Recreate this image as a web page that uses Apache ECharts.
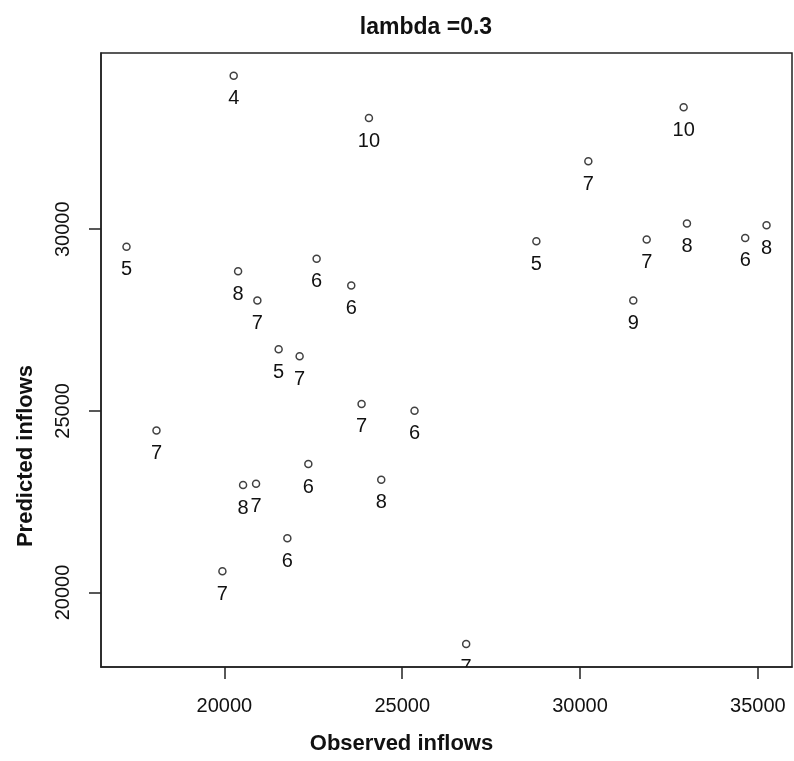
<!DOCTYPE html>
<html>
<head>
<meta charset="utf-8">
<title>lambda =0.3</title>
<script src="https://cdn.jsdelivr.net/npm/echarts@6/dist/echarts.min.js"></script>
<style>
  html, body { margin: 0; padding: 0; background: #fff; }
  #chart { width: 794px; height: 761px; }
</style>
</head>
<body>
<div id="chart"></div>
<script>
// Observed vs. predicted inflows, each point tagged with its group number
const observed = [20261, 24064, 17247, 20385, 20927, 22593, 23567, 21525, 22115, 23857,
                  25346, 18090, 22360, 20525, 20890, 24410, 21770, 19944, 26798, 28772,
                  30233, 32913, 33006, 31874, 31497, 34644, 35244];
const predicted = [34223, 33058, 29514, 28846, 28041, 29184, 28453, 26695, 26503, 25192,
                   25000, 24459, 23535, 22959, 22995, 23104, 21492, 20585, 18580, 29670,
                   31868, 33360, 30157, 29717, 28041, 29761, 30110];
const pointLabels = [4, 10, 5, 8, 7, 6, 6, 5, 7, 7, 6, 7, 6, 8, 7, 8, 6, 7, 7, 5, 7, 10, 8, 7, 9, 6, 8];

const xTicks = [20000, 25000, 30000, 35000];
const yTicks = [20000, 25000, 30000];

const FONT = '"Liberation Sans", Arial, sans-serif';
const INK = '#111';

const points = observed.map((x, i) => [x, predicted[i], pointLabels[i]]);
const plainNumber = v => String(v);

const chart = echarts.init(document.getElementById('chart'), null, { renderer: 'canvas' });

chart.setOption({
  backgroundColor: '#fff',
  animation: false,
  title: {
    text: 'lambda =0.3',
    left: 421,
    top: 11,
    textAlign: 'center',
    textStyle: { fontFamily: FONT, fontSize: 23, fontWeight: 'bold', color: INK }
  },
  grid: {
    left: 101, right: 2, top: 53, bottom: 94,
    show: true, borderColor: '#222', borderWidth: 1.5, backgroundColor: 'transparent'
  },
  xAxis: {
    type: 'value',
    min: 16530, max: 35960,
    splitLine: { show: false },
    axisLine: { show: true, lineStyle: { color: '#222', width: 1.5 } },
    axisTick: { show: true, customValues: xTicks, length: 12, inside: false,
                lineStyle: { color: '#222', width: 1.5 } },
    axisLabel: { customValues: xTicks, formatter: plainNumber, margin: 29,
                 fontFamily: FONT, fontSize: 20, color: INK },
    name: 'Observed inflows',
    nameLocation: 'middle',
    nameGap: 66,
    nameTextStyle: { fontFamily: FONT, fontSize: 22, fontWeight: 'bold', color: INK,
                     padding: [0, 90, 0, 0] }
  },
  yAxis: {
    type: 'value',
    min: 17950, max: 34850,
    splitLine: { show: false },
    axisLine: { show: true, lineStyle: { color: '#222', width: 1.5 } },
    axisTick: { show: true, customValues: yTicks, length: 12, inside: false,
                lineStyle: { color: '#222', width: 1.5 } },
    axisLabel: { customValues: yTicks, formatter: plainNumber, rotate: 90, margin: 28,
                 fontFamily: FONT, fontSize: 20, color: INK },
    name: 'Predicted inflows',
    nameLocation: 'middle',
    nameGap: 64,
    nameTextStyle: { fontFamily: FONT, fontSize: 22, fontWeight: 'bold', color: INK,
                     padding: [0, 192, 0, 0] }
  },
  series: [
    {
      type: 'scatter',
      data: points,
      encode: { x: 0, y: 1 },
      symbol: 'circle',
      symbolSize: 7,
      itemStyle: { color: '#fff', borderColor: INK, borderWidth: 1.5 },
      z: 3
    },
    {
      // group numbers written under each point, clipped to the plot region
      type: 'custom',
      data: points,
      encode: { x: 0, y: 1 },
      clip: true,
      renderItem: function (params, api) {
        const p = api.coord([api.value(0), api.value(1)]);
        return {
          type: 'text',
          x: p[0],
          y: p[1] + 23,
          style: {
            text: String(api.value(2)),
            fontFamily: FONT,
            fontSize: 20,
            fill: INK,
            align: 'center',
            verticalAlign: 'middle'
          }
        };
      },
      z: 2
    }
  ]
});
</script>
</body>
</html>
